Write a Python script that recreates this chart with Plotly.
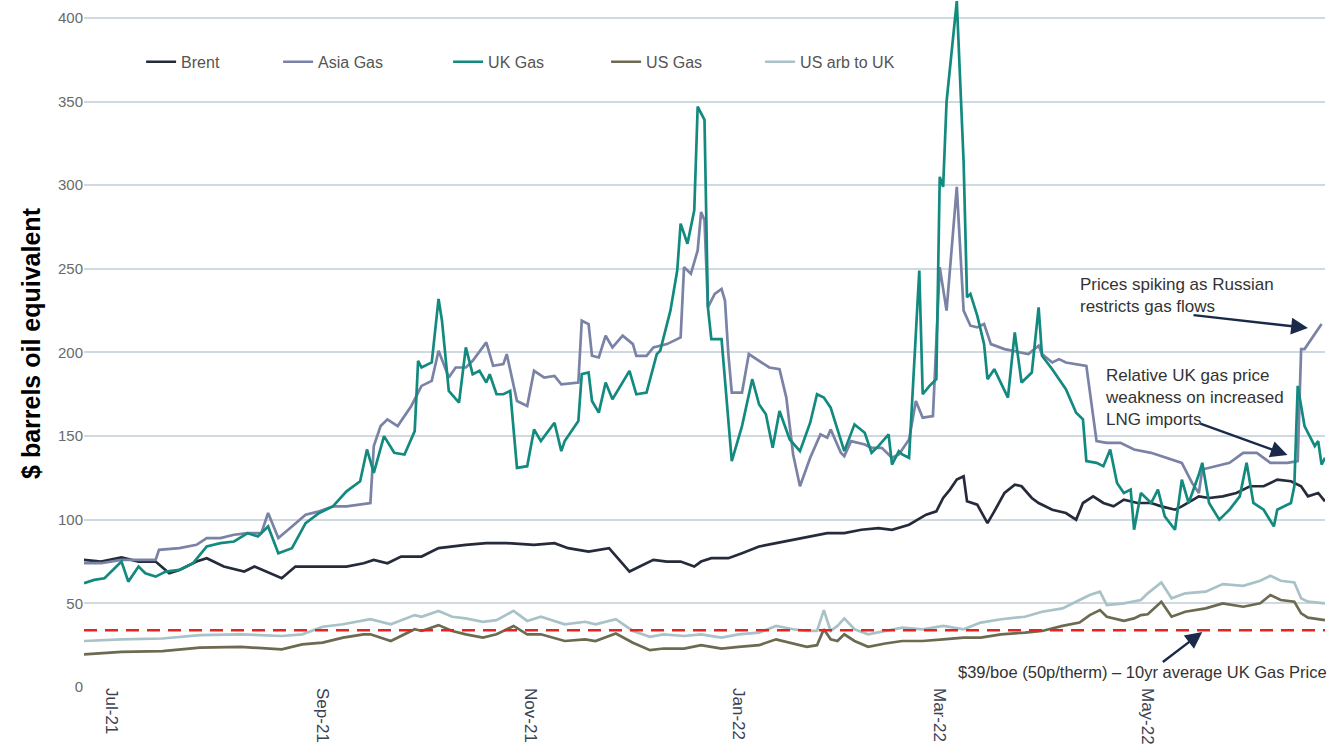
import pandas as pd
import plotly.graph_objects as go

START = pd.Timestamp("2021-06-23")
END_DAY = 364

# ---- data (day offsets from START, values in $/boe) ----
BRENT_DAYS = [0,5,11,16,21,25,28,33,36,41,47,50,58,62,67,73,77,82,85,89,93,99,104,112,118,124,132,138,142,148,
              151,154,157,160,163,167,171,175,179,181,184,189,193,198,203,208,213,218,223,228,233,237,242,247,250,252,254,256,258,259,
              262,265,267,270,273,275,278,280,284,288,291,293,296,299,302,305,309,313,316,320,322,327,330,334,338,342,346,350,354,357,
              359,362,364]
BRENT = [76,75,77.5,75,75,68,70,75,77,72,69,72,65,72,72,72,72,74,76,74,78,78,83,85,86,86,85,86,83,81,
         82,83,76,69,72,76,75,75,72,75,77,77,80,84,86,88,90,92,92,94,95,94,97,103,105,113,118,124,126,111,
         109,98,105,116,121,120,113,110,106,104,100,110,114,110,108,112,110,110,108,106,108,114,113,114,116,120,120,124,123,120,
         114,116,111]

ASIA_DAYS = [0,5,11,18,21,22,28,33,36,40,44,48,52,54,57,61,65,69,73,77,83,84,85,87,89,92,96,99,102,104,
             107,109,112,114,118,120,123,124,127,130,132,135,138,140,145,146,148,149,151,153,155,158,161,162,165,167,171,175,176,178,
             180,181,182,183,185,187,188,189,190,193,195,198,201,204,206,208,210,213,216,218,219,222,223,225,229,231,234,237,239,242,
             244,246,249,251,253,256,258,260,262,264,266,270,277,280,281,284,286,288,291,294,297,300,304,308,313,316,320,322,325,327,
             328,332,336,340,344,348,350,353,356,357,358,360,363]
ASIA = [74,74,76,76,76,82,83,85,89,89,91,92,92,104,89,96,103,105,108,108,110,110,144,156,160,156,168,180,183,201,
        185,191,191,195,206,192,193,199,171,168,189,185,186,181,182,219,217,198,197,210,203,210,205,198,198,203,205,209,251,247,
        261,284,279,227,235,238,231,199,176,176,199,195,191,190,173,139,120,137,151,149,154,140,138,147,145,143,143,137,139,148,
        171,161,162,251,225,299,225,216,215,217,205,202,199,204,199,194,196,194,193,192,147,146,146,142,140,138,135,134,122,116,
        130,132,134,140,140,134,134,134,135,202,202,208,217]

UK_DAYS = [0,3,6,9,11,13,16,18,21,24,28,32,36,40,44,48,51,54,57,61,65,69,73,77,81,83,85,88,91,94,
           97,98,99,102,104,105,107,110,112,114,116,118,119,121,123,125,127,130,132,134,138,140,141,145,146,148,149,151,153,155,
           157,160,162,165,168,169,172,174,175,177,179,180,182,183,184,187,190,193,196,198,200,202,204,207,210,213,215,217,219,223,
           226,229,231,233,236,237,239,240,242,245,246,248,250,251,252,253,256,258,259,260,262,264,265,267,271,273,275,278,280,281,
           284,288,291,293,294,297,299,301,303,305,307,308,310,313,315,317,320,322,324,327,328,330,333,336,339,341,343,346,349,350,
           354,355,356,358,361,362,363,364]
UK = [62,64,65,71,75,63,72,68,66,69,70,74,84,86,87,92,90,96,80,83,98,104,108,117,123,142,128,150,140,139,
      153,195,191,194,232,219,177,170,203,187,189,182,187,175,175,177,131,132,154,147,158,141,147,159,187,188,171,164,182,172,
      179,189,175,176,199,201,225,249,277,265,285,347,339,227,208,208,135,156,184,169,163,143,165,148,141,158,175,173,167,141,
      157,152,140,144,151,133,141,139,137,249,175,180,184,305,299,350,410,314,233,235,222,205,184,190,173,212,182,188,227,198,
      190,178,164,160,135,134,132,142,122,116,118,94,116,110,118,102,94,124,110,127,134,110,100,106,114,134,110,106,96,106,
      110,120,180,156,144,147,133,137]

US_DAYS = [0,11,23,34,46,58,64,70,76,82,84,90,97,99,104,108,112,117,121,126,
           130,134,141,147,150,156,161,166,170,176,181,187,192,198,203,208,212,215,217,219,
           221,223,226,230,235,240,246,252,258,263,269,276,281,287,292,295,298,300,305,308,
           310,312,316,319,323,329,334,340,345,348,351,355,357,359,364]
US_GAS = [19.5,21,21.5,23.5,24,22.5,25.5,26.5,29.5,31.5,31.5,27.5,34.5,33.5,37,33.5,31.5,29.5,31.5,36.5,
          31.5,31.5,27.5,28.5,27.5,32,26.5,22,23,23,25,23,24,25,28.5,26,24,25,34.5,28.5,
          27.5,31.5,27.5,24,26,27.5,27.5,28.5,29.5,29.5,31.5,32.5,33.5,36.5,38.5,43,46,42,39.5,41,
          43,43.5,51,42,45,47,50,48,50,55,52,51,44,41.5,40]
US_ARB = [27.5,28.5,29,31,31.5,30.5,31.5,36,37.5,40,40.5,37.5,43,42,45.5,42,41,39,40,45.5,
          39.5,42,37.5,39,37.5,40.5,33.5,30,31.5,30.5,31.5,29.5,31.5,32.5,36.5,34.5,33.5,33.5,46,33.5,
          36.5,41,34.5,31.5,33.5,35.5,34.5,36.5,34.5,38.5,40.5,42,45,47,52,55,57,49,50,51,
          52,56,62.5,53,56,57,61.5,60.5,63.5,66.5,63.5,62.5,53,51,50]

UK_10YR_AVG = 34
TICK_DATES = ["2021-07-01", "2021-09-01", "2021-11-01", "2022-01-01", "2022-03-01", "2022-05-01"]
TICK_TEXT = ["Jul-21", "Sep-21", "Nov-21", "Jan-22", "Mar-22", "May-22"]
Y_TICKS = [0, 50, 100, 150, 200, 250, 300, 350, 400]


def to_dates(days):
    return [START + pd.Timedelta(days=d) for d in days]


series = [
    ("Brent", BRENT_DAYS, BRENT, "#262b3c", 92),
    ("Asia Gas", ASIA_DAYS, ASIA, "#7a82a5", 125),
    ("UK Gas", UK_DAYS, UK, "#138a7f", 113),
    ("US Gas", US_DAYS, US_GAS, "#6c6a51", 109),
    ("US arb to UK", US_DAYS, US_ARB, "#a8c2c7", 130),
]

fig = go.Figure()
for name, days, vals, color, lw in series:
    fig.add_trace(go.Scatter(x=to_dates(days), y=vals, mode="lines", name=name,
                             line=dict(color=color, width=2.7), legendwidth=lw))

fig.add_trace(go.Scatter(x=[START, START + pd.Timedelta(days=END_DAY)], y=[UK_10YR_AVG, UK_10YR_AVG],
                         mode="lines", showlegend=False,
                         line=dict(color="#e8231f", width=2.5, dash="13px,8px")))

FONT = "Liberation Sans, Arial, sans-serif"
ARROW = "#1b2a4a"

annos = [
    dict(x="2022-06-17", y=214.6, ax="2022-05-14", ay=222.4),
    dict(x="2022-06-11", y=138.7, ax="2022-05-16", ay=157.8),
    dict(x="2022-05-17", y=32.9, ax="2022-05-05", ay=14.3),
]
for a in annos:
    fig.add_annotation(x=a["x"], y=a["y"], ax=a["ax"], ay=a["ay"], xref="x", yref="y",
                       axref="x", ayref="y", text="", showarrow=True, arrowhead=2,
                       arrowsize=1.4, arrowwidth=2.4, arrowcolor=ARROW)

fig.add_annotation(x=0.8010, y=0.603, xref="paper", yref="paper", xanchor="left", yanchor="top",
                   text="Prices spiking as Russian<br>restricts gas flows", showarrow=False, align="left",
                   font=dict(family=FONT, size=17, color="#333333"))
fig.add_annotation(x=0.8210, y=0.470, xref="paper", yref="paper", xanchor="left", yanchor="top",
                   text="Relative UK gas price<br>weakness on increased<br>LNG imports", showarrow=False,
                   align="left", font=dict(family=FONT, size=17, color="#333333"))
fig.add_annotation(x=1.003, y=0.022, xref="paper", yref="paper", xanchor="right", yanchor="middle",
                   text="$39/boe (50p/therm) – 10yr average UK Gas Price", showarrow=False,
                   font=dict(family=FONT, size=16.5, color="#333333"))

fig.update_layout(
    width=1330, height=755,
    margin=dict(l=84, r=5, t=0, b=68),
    paper_bgcolor="white", plot_bgcolor="white",
    font=dict(family=FONT),
    legend=dict(orientation="h", x=0.046, y=0.91, xanchor="left", yanchor="middle",
                font=dict(family=FONT, size=16, color="#555555"), bgcolor="rgba(0,0,0,0)"),
)
fig.update_xaxes(type="date", range=[START, START + pd.Timedelta(days=END_DAY)],
                 tickvals=TICK_DATES, ticktext=TICK_TEXT, tickangle=90,
                 tickfont=dict(family=FONT, size=17, color="#3a4152"),
                 showgrid=False, showline=False, ticks="", zeroline=False)
fig.update_yaxes(range=[0, 410.7], tickvals=Y_TICKS, gridcolor="#d0d8e0", gridwidth=2,
                 zeroline=False, showline=False, ticks="",
                 tickfont=dict(family=FONT, size=15, color="#6a6a6a"),
                 title=dict(text="<b>$ barrels oil equivalent</b>", standoff=10,
                            font=dict(family=FONT, size=25, color="#000000")))

fig.write_html("out.html",
               config={"displayModeBar": False},
               post_script="document.body.style.margin='0px';document.body.style.overflow='hidden';")
